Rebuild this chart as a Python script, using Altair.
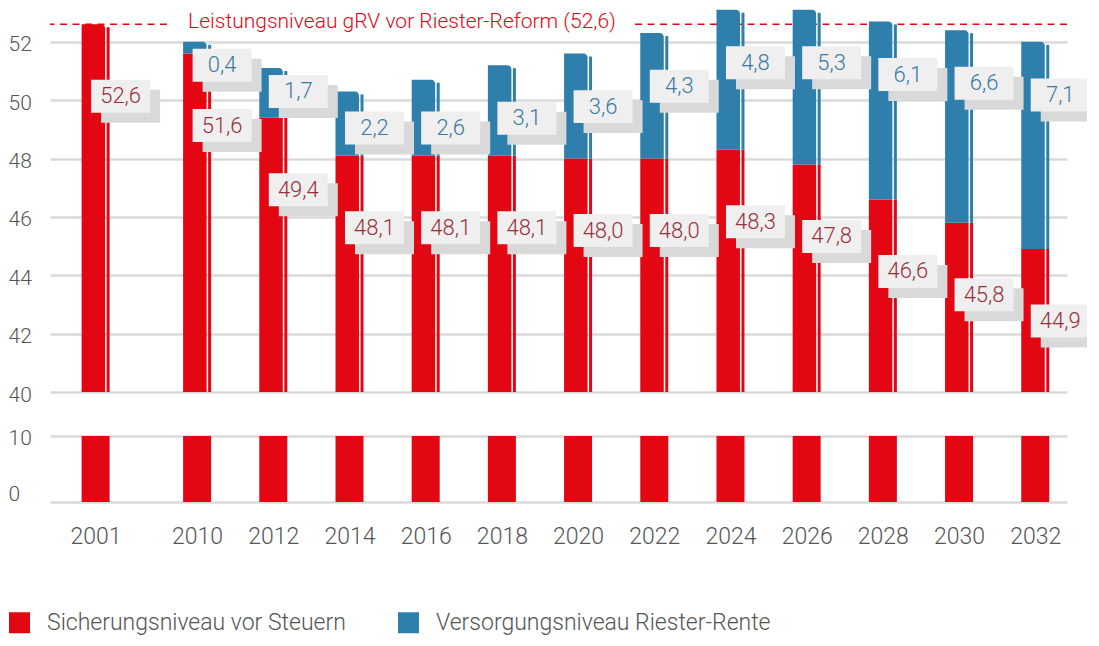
import altair as alt
import pandas as pd

# ---------------- data ----------------
years = ["2001", "2010", "2012", "2014", "2016", "2018", "2020",
         "2022", "2024", "2026", "2028", "2030", "2032"]
sicherung = [52.6, 51.6, 49.4, 48.1, 48.1, 48.1, 48.0, 48.0, 48.3, 47.8, 46.6, 45.8, 44.9]
riester = [0.0, 0.4, 1.7, 2.2, 2.6, 3.1, 3.6, 4.3, 4.8, 5.3, 6.1, 6.6, 7.1]
series_names = ["Sicherungsniveau vor Steuern", "Versorgungsniveau Riester-Rente"]
reference_level = 52.6
reference_label = "Leistungsniveau gRV vor Riester-Reform (52,6)"
upper_ticks = [40, 42, 44, 46, 48, 50, 52]
lower_ticks = [0, 10]

# ---------------- styling ----------------
RED = "#e30613"
BLUE = "#2e7fac"
RED_TXT = "#9a2f3c"
BLUE_TXT = "#3a7aa5"
GRID = "#dadada"
AXIS_TXT = "#555555"
BOX = "#efefef"
SHADOW = "#d9d9d9"
FONT = "Roboto"
FW = 300

GAP = 0.332  # extra category spacing after the first year (layout)
pos = [i + (GAP if i > 0 else 0) for i in range(len(years))]

df = pd.DataFrame({
    "pos": pos,
    "year": years,
    "red": sicherung,
    "blue": riester,
})
df["total"] = df["red"] + df["blue"]
fmt = lambda v: f"{v:.1f}".replace(".", ",")
df["red_label"] = [fmt(v) for v in df["red"]]
df["blue_label"] = [fmt(v) for v in df["blue"]]

ref_df = pd.DataFrame({"level": [reference_level], "label": [reference_label]})

W = 1017
H_UP = 384
H_LO = 66
xscale = alt.Scale(domain=[-0.533, 12.683], nice=False, zero=False)
y_up = alt.Scale(domain=[40, 53.16], nice=False, zero=False)
y_lo = alt.Scale(domain=[0, 10], nice=False, zero=False)

BOX_W = 59
box_path = "M-1,-0.559L1,-0.559L1,0.559L-1,0.559Z"
strip_path = "M-1,-0.011L1,-0.011L1,0.011L-1,0.011Z"
LBL_FS = 22

up_axis = alt.Axis(values=upper_ticks, title=None, grid=True, gridColor=GRID, gridWidth=2.5,
                   domain=False, ticks=False, tickSize=0, labelAlign="left", labelPadding=42,
                   labelBaseline="middle", labelOffset=3, labelFontSize=21, labelColor=AXIS_TXT,
                   labelFont=FONT, labelFontWeight=FW)

base = alt.Chart(df).transform_calculate(
    series=f"'{series_names[0]}'"
).encode(x=alt.X("pos:Q", scale=xscale, axis=None))

color_enc = alt.Color("series:N", scale=alt.Scale(domain=series_names, range=[RED, BLUE]),
                      legend=alt.Legend(orient="none", legendX=-42, legendY=603, direction="horizontal",
                                        title=None, symbolType="square", symbolSize=441,
                                        symbolStrokeWidth=0, symbolOpacity=1,
                                        labelFontSize=23, labelColor=AXIS_TXT, labelFont=FONT,
                                        labelFontWeight=FW, labelOffset=16, columnPadding=51,
                                        labelLimit=500, padding=0))

# reference line (behind bars)
ref_rule = alt.Chart(ref_df).mark_rule(color=RED, strokeWidth=1.5, strokeDash=[7, 5.5]).encode(
    y=alt.Y("level:Q", scale=y_up, axis=up_axis)
)
ref_bg = alt.Chart(ref_df).mark_point(shape=strip_path, size=460 ** 2, filled=True, fill="white",
                                      opacity=1, strokeWidth=0).encode(
    x=alt.value(352), y=alt.Y("level:Q", scale=y_up)
)
ref_text = alt.Chart(ref_df).mark_text(color=RED, fontSize=21, font=FONT, fontWeight=FW,
                                       baseline="alphabetic", align="center", dy=3.5).encode(
    x=alt.value(352), y=alt.Y("level:Q", scale=y_up), text="label:N"
)

has_blue = "datum.blue > 0"
no_blue = "datum.blue <= 0"

red_main_a = base.transform_filter(has_blue).mark_bar(width=23.5, xOffset=-2.25).encode(
    y=alt.Y("red:Q", scale=y_up), y2=alt.datum(40), color=color_enc)
red_main_b = base.transform_filter(no_blue).mark_bar(width=23.5, xOffset=-2.25,
                                                    cornerRadiusTopRight=4).encode(
    y=alt.Y("red:Q", scale=y_up), y2=alt.datum(40), color=color_enc)
blue_main = base.transform_filter(has_blue).transform_calculate(
    series=f"'{series_names[1]}'"
).mark_bar(width=23.5, xOffset=-2.25, cornerRadiusTopRight=4).encode(
    y=alt.Y("total:Q", scale=y_up), y2="red:Q", color=color_enc)

red_strip_a = base.transform_filter(has_blue).mark_bar(width=3, xOffset=12.5, color=RED).encode(
    y=alt.Y("red:Q", scale=y_up), y2=alt.datum(40))
red_strip_b = base.transform_filter(no_blue).mark_bar(width=3, xOffset=12.5, color=RED,
                                                     yOffset=3).encode(
    y=alt.Y("red:Q", scale=y_up), y2=alt.datum(40))
blue_strip = base.transform_filter(has_blue).mark_bar(width=3, xOffset=12.5, color=BLUE,
                                                     yOffset=3).encode(
    y=alt.Y("total:Q", scale=y_up), y2="red:Q")

# labels
RED_DY = 72
red_shadow = base.mark_point(shape=box_path, size=BOX_W ** 2, filled=True, fill=SHADOW, opacity=1,
                             strokeWidth=0, xOffset=35, yOffset=RED_DY + 10).encode(
    y=alt.Y("red:Q", scale=y_up))
red_box = base.mark_point(shape=box_path, size=BOX_W ** 2, filled=True, fill=BOX, opacity=1,
                          strokeWidth=0, xOffset=25, yOffset=RED_DY).encode(
    y=alt.Y("red:Q", scale=y_up))
red_text = base.mark_text(color=RED_TXT, fontSize=LBL_FS, font=FONT, fontWeight=FW, dx=25, dy=RED_DY,
                          baseline="middle", align="center").encode(
    y=alt.Y("red:Q", scale=y_up), text="red_label:N")

blue_base = base.transform_filter(has_blue).transform_calculate(
    anchor="min(datum.total - 0.8, max(datum.total - 1.82, datum.red + 0.95))"
)
blue_shadow = blue_base.mark_point(shape=box_path, size=BOX_W ** 2, filled=True, fill=SHADOW,
                                   opacity=1, strokeWidth=0, xOffset=35, yOffset=10).encode(
    y=alt.Y("anchor:Q", scale=y_up))
blue_box = blue_base.mark_point(shape=box_path, size=BOX_W ** 2, filled=True, fill=BOX, opacity=1,
                                strokeWidth=0, xOffset=25).encode(
    y=alt.Y("anchor:Q", scale=y_up))
blue_text = blue_base.mark_text(color=BLUE_TXT, fontSize=LBL_FS, font=FONT, fontWeight=FW, dx=25,
                                baseline="middle", align="center").encode(
    y=alt.Y("anchor:Q", scale=y_up), text="blue_label:N")

upper = alt.layer(
    ref_rule, ref_bg, ref_text,
    red_main_a, red_main_b, blue_main, red_strip_a, red_strip_b, blue_strip,
    red_shadow, blue_shadow, red_box, blue_box, red_text, blue_text
).properties(width=W, height=H_UP)

label_expr = "[" + ",".join(f"'{y}'" for y in years) + f"][datum.value == 0 ? 0 : round(datum.value - {GAP})]"

lower = alt.Chart(df).mark_bar(width=28, color=RED, clip=True).encode(
    x=alt.X("pos:Q", scale=xscale,
            axis=alt.Axis(values=pos, labelExpr=label_expr, title=None, grid=False, domain=False,
                          ticks=False, tickSize=0, labelPadding=23, labelFontSize=23,
                          labelColor=AXIS_TXT, labelFont=FONT, labelFontWeight=FW,
                          labelFlush=False, labelOverlap=False)),
    y=alt.Y("red:Q", scale=y_lo,
            axis=alt.Axis(values=lower_ticks, title=None, grid=True, gridColor=GRID, gridWidth=2.5,
                          domain=False, ticks=False, tickSize=0, labelAlign="left", labelPadding=42,
                          labelBaseline="middle",
                          labelOffset={"condition": {"test": "datum.value == 0", "value": -8}, "value": 2},
                          labelFontSize=21, labelColor=AXIS_TXT, labelFont=FONT, labelFontWeight=FW)),
    y2=alt.datum(0),
).properties(width=W, height=H_LO)

chart = alt.vconcat(upper, lower, spacing=44, bounds="flush").resolve_scale(y="independent").properties(
    padding={"left": 0, "top": 0, "right": -13, "bottom": 0}
).configure(font=FONT).configure_view(stroke=None)

chart.save("out.html", embed_options={"renderer": "svg", "actions": False})
